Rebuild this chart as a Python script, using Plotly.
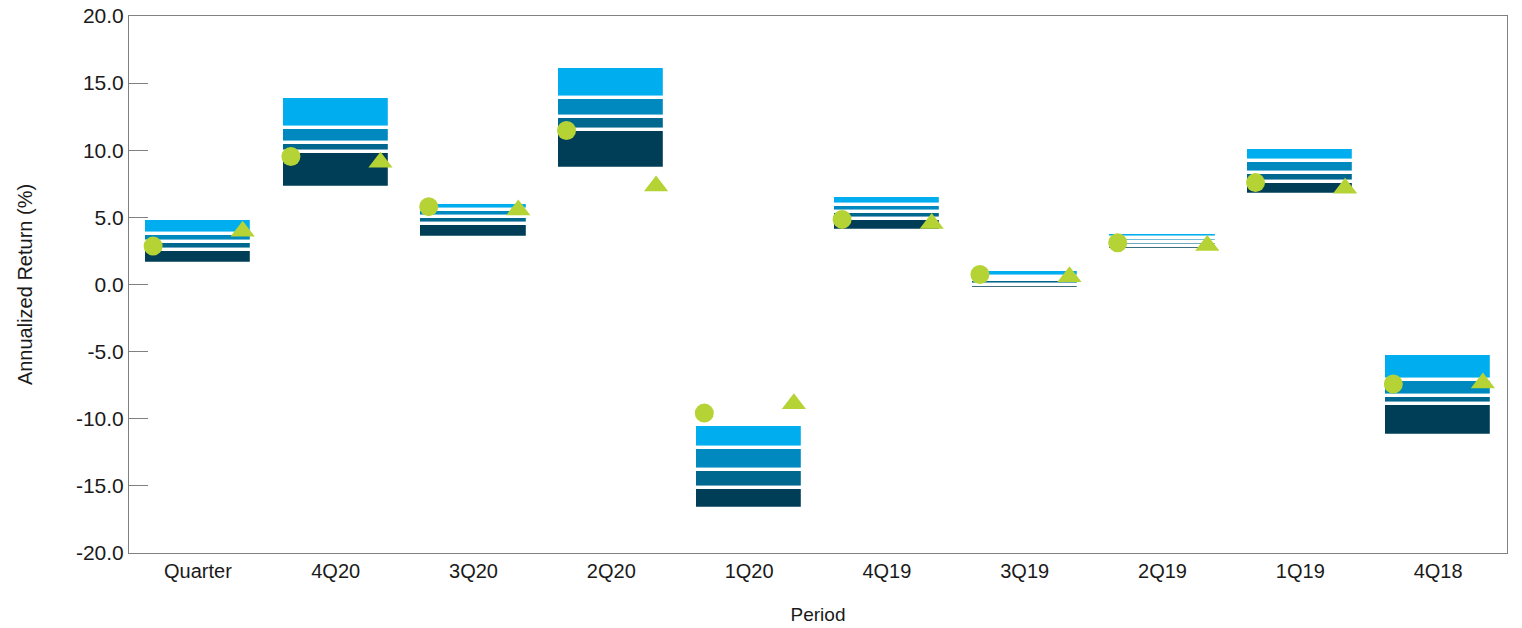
import plotly.graph_objects as go

categories = ["Quarter", "4Q20", "3Q20", "2Q20", "1Q20", "4Q19", "3Q19", "2Q19", "1Q19", "4Q18"]
top_vals = [4.9, 14.0, 6.05, 16.2, -10.45, 6.58, 1.08, 3.85, 10.2, -5.15]
b1_vals = [3.73, 11.64, 5.55, 13.9, -12.2, 5.91, 0.56, 3.45, 9.2, -7.11]
b2_vals = [3.18, 10.53, 5.0, 12.47, -13.83, 5.41, 0.32, 3.17, 8.28, -8.31]
b3_vals = [2.54, 9.9, 4.54, 11.53, -15.19, 4.85, 0.0, 2.9, 7.65, -8.93]
bottom_vals = [1.52, 7.22, 3.45, 8.64, -16.75, 3.96, -0.34, 2.6, 6.7, -11.27]
circle_vals = [2.86, 9.53, 5.8, 11.47, -9.58, 4.85, 0.75, 3.11, 7.59, -7.41]
triangle_vals = [3.96, 9.1, 5.55, 7.33, -8.88, 4.55, 0.58, 2.9, 7.17, -7.33]
y_ticks = [20, 15, 10, 5, 0, -5, -10, -15, -20]

colors = ["#00AEEF", "#0089BF", "#00678F", "#003E57"]
green = "#B5D334"

xs = list(range(len(categories)))
fig = go.Figure()

bounds = [top_vals, b1_vals, b2_vals, b3_vals, bottom_vals]
for k in range(4):
    upper = bounds[k]
    lower = bounds[k + 1]
    fig.add_trace(go.Bar(
        x=xs,
        y=[u - l for u, l in zip(upper, lower)],
        base=lower,
        width=0.785,
        marker=dict(color=colors[k], line=dict(color="white", width=3.2)),
        hoverinfo="skip",
        showlegend=False,
    ))

fig.add_trace(go.Scatter(
    x=[i - 0.325 for i in xs], y=circle_vals, mode="markers",
    marker=dict(symbol="circle", size=19, color=green, line=dict(width=0)),
    showlegend=False,
))
fig.add_trace(go.Scatter(
    x=[i + 0.325 for i in xs], y=triangle_vals, mode="markers",
    marker=dict(symbol="triangle-up", size=21, color=green, line=dict(width=0)),
    showlegend=False,
))

axis_color = "#808080"
fig.update_layout(
    width=1522, height=628,
    margin=dict(l=129, r=15, t=16, b=75),
    plot_bgcolor="white", paper_bgcolor="white",
    barmode="overlay",
    bargap=0,
    font=dict(family="Liberation Sans, Arial, sans-serif", color="#1a1a1a"),
    xaxis=dict(
        range=[-0.5, len(categories) - 0.5],
        tickmode="array", tickvals=xs, ticktext=categories,
        showgrid=False, zeroline=False, automargin=False,
        showline=True, linecolor=axis_color, linewidth=1, mirror=True,
        ticks="", tickfont=dict(size=20), ticklabeloverflow="allow",
        title=dict(text="Period", font=dict(size=19), standoff=26),
    ),
    yaxis=dict(
        range=[-20, 20],
        tickmode="array", tickvals=y_ticks, ticktext=[f"{v:.1f}" for v in y_ticks],
        showgrid=False, zeroline=False, automargin=False,
        showline=True, linecolor=axis_color, linewidth=1, mirror=True,
        ticks="inside", ticklen=19, tickcolor=axis_color, tickwidth=1,
        tickfont=dict(size=21), ticklabeloverflow="allow",
        title=dict(text="Annualized Return (%)", font=dict(size=20), standoff=37),
    ),
)

fig.write_html("out.html", config={"displayModeBar": False},
               post_script="document.body.style.margin='0px';")
